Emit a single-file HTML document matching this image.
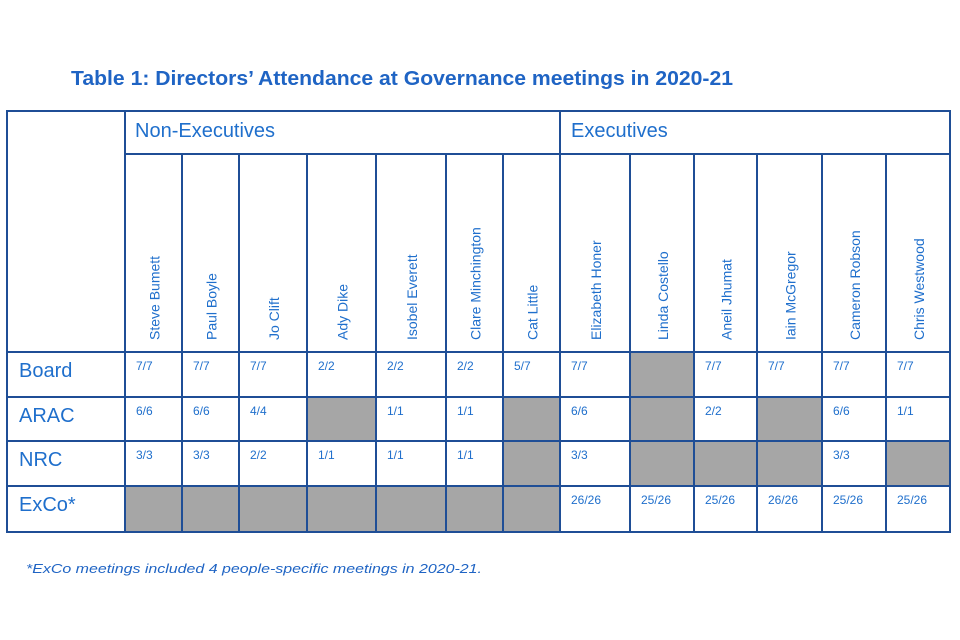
<!DOCTYPE html>
<html><head><meta charset="utf-8"><style>
body{margin:0;background:#fff;width:960px;height:640px;overflow:hidden}
svg{display:block}
text{font-family:"Liberation Sans",sans-serif}
</style></head><body>
<svg id="s" width="960" height="640" viewBox="0 0 960 640">
<text x="71" y="85" font-size="20" font-weight="bold" fill="#1f64c4" textLength="662" lengthAdjust="spacingAndGlyphs">Table 1: Directors’ Attendance at Governance meetings in 2020-21</text>
<text x="26" y="573" font-size="13" font-style="italic" fill="#1f64c4" textLength="456" lengthAdjust="spacingAndGlyphs">*ExCo meetings included 4 people-specific meetings in 2020-21.</text>
</svg>
<script>
const names=["Steve Bumett","Paul Boyle","Jo Clift","Ady Dike","Isobel Everett","Clare Minchington","Cat Little","Elizabeth Honer","Linda Costello","Aneil Jhumat","Iain McGregor","Cameron Robson","Chris Westwood"];
const rows=["Board","ARAC","NRC","ExCo*"];
const board=["7/7","7/7","7/7","2/2","2/2","2/2","5/7","7/7","","7/7","7/7","7/7","7/7"];
const arac=["6/6","6/6","4/4","","1/1","1/1","","6/6","","2/2","","6/6","1/1"];
const nrc=["3/3","3/3","2/2","1/1","1/1","1/1","","3/3","","","","3/3",""];
const exco=["","","","","","","","26/26","25/26","25/26","26/26","25/26","25/26"];
const cols=[125,182,239,307,376,446,503,560,630,694,757,822,886,950];
const rowY=[352,397,441,486,532];
const NS="http://www.w3.org/2000/svg",s=document.getElementById('s');
const B="#1f4e96",T="#1f6fcc";
function el(t,a){const e=document.createElementNS(NS,t);for(const k in a)e.setAttribute(k,a[k]);s.appendChild(e);return e;}
const data=[board,arac,nrc,exco];
data.forEach((r,ri)=>r.forEach((v,ci)=>{
 if(v===""){const g=el('rect',{x:cols[ci],y:rowY[ri],width:cols[ci+1]-cols[ci],height:rowY[ri+1]-rowY[ri],fill:'#a6a6a6'});
 
 }
 else{const t=el('text',{x:cols[ci]+11,y:rowY[ri]+18,'font-size':12,fill:T});t.textContent=v;
 
 }
}));
rows.forEach((r,i)=>{const t=el('text',{x:19,y:rowY[i]+25,'font-size':20,fill:T});t.textContent=r;
 
 });
names.forEach((n,i)=>{const x=(cols[i]+cols[i+1])/2+6;const t=el('text',{x:x,y:340,'font-size':14,fill:T,transform:`rotate(-90 ${x} 340)`});t.textContent=n;
 
 });
const h1=el('text',{x:135,y:137,'font-size':20,fill:T});h1.textContent="Non-Executives";


const h2=el('text',{x:571,y:137,'font-size':20,fill:T});h2.textContent="Executives";


// grid lines
const L=(x1,y1,x2,y2)=>{const l=el('line',{x1,y1,x2,y2,stroke:B,'stroke-width':2});};
el('rect',{x:7,y:111,width:943,height:421,fill:'none',stroke:B,'stroke-width':2});
L(125,154,950,154);
rowY.slice(0,4).forEach(y=>L(7,y,950,y));
L(125,111,125,532);L(560,111,560,532);
cols.slice(1,13).forEach(x=>{if(x!==560)L(x,154,x,532);});
</script>
</body></html>
